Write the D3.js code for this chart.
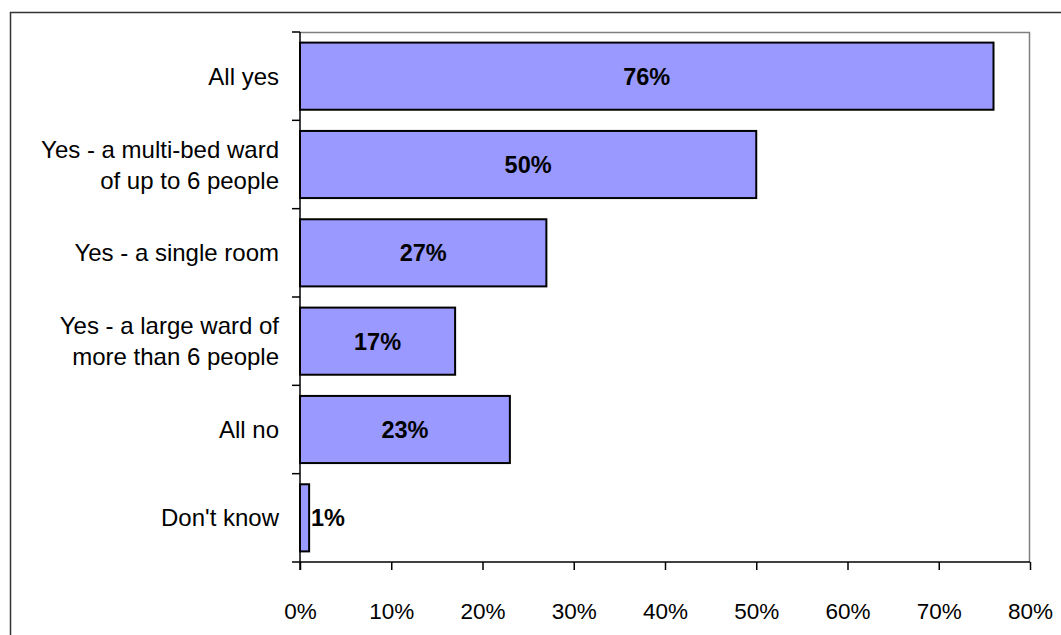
<!DOCTYPE html>
<html>
<head>
<meta charset="utf-8">
<script src="https://cdn.jsdelivr.net/npm/d3@7"></script>
<style>
  html, body { margin: 0; padding: 0; background: #fff; }
  svg { display: block; }
  text { font-family: Arial, "Liberation Sans", sans-serif; fill: #000; }
</style>
</head>
<body>
<svg id="chart" width="1061" height="635"></svg>
<script>
// Response categories (top to bottom) and their share of respondents
const categories = [
  ["All yes"],
  ["Yes - a multi-bed ward", "of up to 6 people"],
  ["Yes - a single room"],
  ["Yes - a large ward of", "more than 6 people"],
  ["All no"],
  ["Don't know"]
];
const values = [76, 50, 27, 17, 23, 1];
const xTicks = [0, 10, 20, 30, 40, 50, 60, 70, 80];

const svg = d3.select("#chart");
const plot = { left: 300, right: 1030, top: 32, bottom: 562 };
const catFont = 24;
const valueFont = 23.5;
const tickFont = 22.5;

// Outer chart frame
svg.append("rect")
  .attr("x", 10.5).attr("y", 12.5)
  .attr("width", 1100).attr("height", 700)
  .attr("fill", "none").attr("stroke", "#333").attr("stroke-width", 1.5);

const x = d3.scaleLinear().domain([0, 80]).range([plot.left, plot.right]);
const y = d3.scaleBand()
  .domain(d3.range(categories.length))
  .range([plot.top, plot.bottom])
  .paddingInner(0.24).paddingOuter(0.12);

// Plot area border (top and right)
svg.append("path")
  .attr("d", `M${plot.left},${plot.top + 0.5}H${plot.right - 0.5}V${plot.bottom}`)
  .attr("fill", "none").attr("stroke", "#808080").attr("stroke-width", 1.5);

// Bars
svg.append("g").selectAll("rect")
  .data(values)
  .join("rect")
  .attr("x", x(0))
  .attr("y", (d, i) => y(i))
  .attr("width", d => x(d) - x(0))
  .attr("height", y.bandwidth())
  .attr("fill", "#9999FF")
  .attr("stroke", "#000")
  .attr("stroke-width", 2);

// Value labels inside bars
svg.append("g").selectAll("text")
  .data(values)
  .join("text")
  .attr("x", d => Math.max((x(0) + x(d)) / 2, x(0) + 28))
  .attr("y", (d, i) => y(i) + y.bandwidth() / 2)
  .attr("dy", "0.36em")
  .attr("text-anchor", "middle")
  .attr("font-weight", "bold")
  .attr("font-size", valueFont)
  .text(d => d + "%");

// X axis
const xAxis = d3.axisBottom(x)
  .tickValues(xTicks)
  .tickFormat(d => d + "%")
  .tickSize(8)
  .tickPadding(33);
const gx = svg.append("g")
  .attr("transform", `translate(0,${plot.bottom})`)
  .call(xAxis);
gx.select(".domain").attr("stroke", "#000").attr("stroke-width", 1.5)
  .attr("d", `M${plot.left},0H${plot.right}`);
gx.selectAll(".tick line").attr("stroke", "#000").attr("stroke-width", 1.5);
gx.selectAll(".tick text")
  .attr("font-size", tickFont)
  .attr("font-family", "Arial, 'Liberation Sans', sans-serif");

// Y axis: tick marks at category boundaries
const boundaries = d3.range(categories.length + 1)
  .map(i => plot.top + i * (plot.bottom - plot.top) / categories.length);
svg.append("line")
  .attr("x1", plot.left).attr("x2", plot.left)
  .attr("y1", plot.top).attr("y2", plot.bottom + 8)
  .attr("stroke", "#000").attr("stroke-width", 1.5);
svg.append("g").selectAll("line")
  .data(boundaries)
  .join("line")
  .attr("x1", plot.left - 8).attr("x2", plot.left)
  .attr("y1", d => d).attr("y2", d => d)
  .attr("stroke", "#000").attr("stroke-width", 1.5);

// Category labels
const lineH = 31;
svg.append("g").selectAll("text")
  .data(categories)
  .join("text")
  .attr("text-anchor", "end")
  .attr("font-size", catFont)
  .attr("transform", (d, i) => `translate(279,${y(i) + y.bandwidth() / 2})`)
  .each(function(lines) {
    const t = d3.select(this);
    const offset = -(lines.length - 1) * lineH / 2;
    lines.forEach((s, k) => {
      t.append("tspan")
        .attr("x", 0)
        .attr("y", offset + k * lineH)
        .attr("dy", "0.36em")
        .text(s);
    });
  });
</script>
</body>
</html>
